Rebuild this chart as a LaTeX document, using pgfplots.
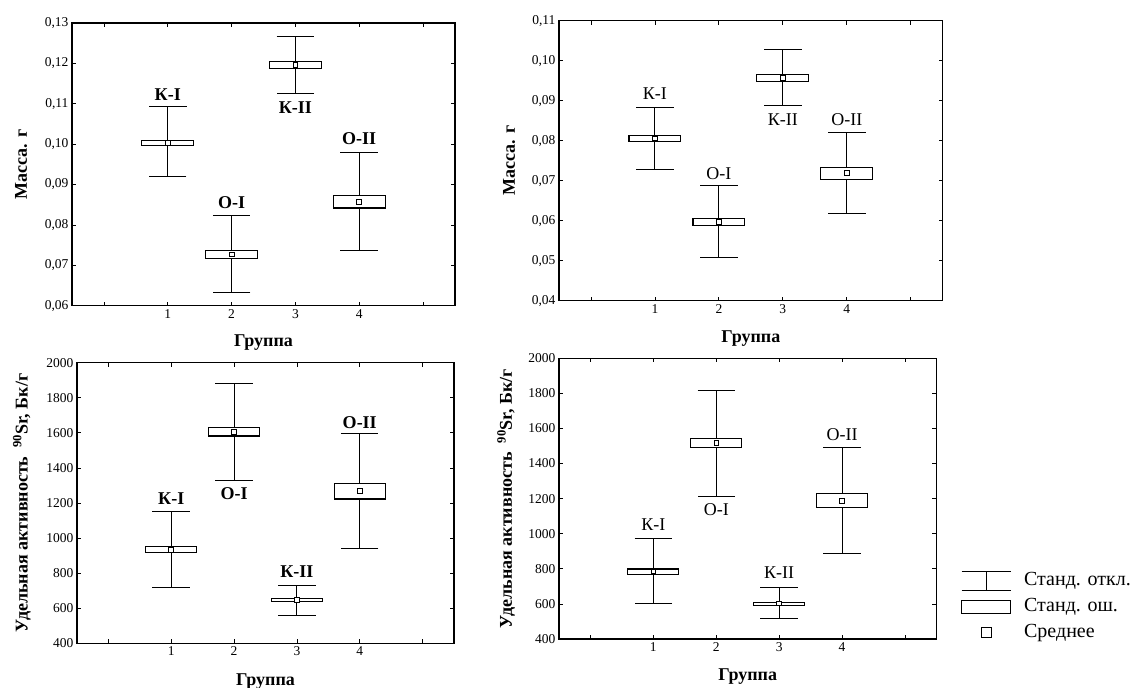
\documentclass[border=0pt]{standalone}
\usepackage{fontspec}
\setmainfont{Liberation Serif}
\usepackage{pgfplots}
\pgfplotsset{compat=1.18}
\usepackage{pgfplotstable}

% group mean and the limits of mean +- standard deviation
\pgfplotstableread{
g mean   sdlo   sdhi
1 0.1003 0.0920 0.1092
2 0.0727 0.0633 0.0823
3 0.1196 0.1125 0.1266
4 0.0857 0.0737 0.0979
}\tA
\pgfplotstableread{
g mean   sdlo   sdhi
1 0.0806 0.0727 0.0884
2 0.0597 0.0508 0.0687
3 0.0958 0.0887 0.1028
4 0.0719 0.0618 0.0821
}\tB
\pgfplotstableread{
g mean sdlo sdhi
1 934  717  1151
2 1607 1331 1882
3 649  558  729
4 1270 938  1595
}\tC
\pgfplotstableread{
g mean sdlo sdhi
1 786  605  970
2 1517 1215 1814
3 603  514  691
4 1189 886  1493
}\tD

% whiskers: mean +- sd
\newcommand\sd[1]{\addplot[black, only marks, mark=none,
  error bars/.cd, y dir=both, y explicit,
  error bar style={draw=black, solid, line width=1.1pt},
  error mark options={draw=black, rotate=90, mark size=18.75pt, line width=1pt}]
  table[x=g, y=mean, y error plus expr=\thisrow{sdhi}-\thisrow{mean},
    y error minus expr=\thisrow{mean}-\thisrow{sdlo}] {#1};}
% box: mean +- se, x from #1 to #2, y from #3 to #4
\newcommand\se[4]{\addplot[black, line width=1.1pt, fill=white, mark=none]
  coordinates {(#1,#3) (#2,#3) (#2,#4) (#1,#4)} --cycle;}
\newcommand\means[1]{\addplot[black, only marks, mark=square*, mark size=2.4pt,
  mark options={line width=0.7pt, solid, fill=white}] table[x=g, y=mean] {#1};}

\pgfplotsset{
  panel/.style={
    scale only axis, anchor=south west,
    xmin=-0.5, xmax=5.5, xtick={0,1,2,3,4,5}, xticklabels={,1,2,3,4,},
    tick align=inside, major tick length=4pt,
    axis line style={line width=1.1pt},
    every tick/.style={black, line width=0.8pt},
    tick label style={font=\fontsize{13.5}{15}\selectfont},
    /pgf/number format/assume math mode=true,
    label style={font=\bfseries\fontsize{18}{20}\selectfont},
    xlabel={Группа},
  },
  mass/.style={
    ytick distance=0.01, ylabel={Масса. г},
    yticklabel style={/pgf/number format/.cd, fixed, fixed zerofill, precision=2, use comma},
  },
  act/.style={
    ymin=400, ymax=2000, ytick distance=200,
    ylabel={Удельная активность\ \ \textsuperscript{90}Sr, Бк/г},
    yticklabel style={/pgf/number format/1000 sep={}},
  },
}
\tikzset{
  gb/.style={anchor=base, font=\bfseries\fontsize{18}{20}\selectfont},
  gr/.style={anchor=base, font=\fontsize{18}{20}\selectfont},
}

\begin{document}
\begin{tikzpicture}
\useasboundingbox (0,0) rectangle (1141pt,688pt);

% top left
\begin{axis}[panel, mass, at={(72pt,382.3pt)}, width=383pt, height=282.7pt,
  ymin=0.06, ymax=0.13,
  xlabel style={at={(axis description cs:0.5,-0.143)}, anchor=base},
  ylabel style={at={(axis description cs:-0.133,0.5)}, anchor=center}]
\sd{\tA}
\se{0.595}{1.405}{0.0997}{0.1010}
\se{1.595}{2.405}{0.0717}{0.0737}
\se{2.595}{3.405}{0.1188}{0.1204}
\se{3.595}{4.405}{0.0842}{0.0873}
\means{\tA}
\node[gb] at (axis cs:1,0.1109) {К-I};
\node[gb] at (axis cs:2,0.0840) {О-I};
\node[gb] at (axis cs:3,0.1076) {К-II};
\node[gb] at (axis cs:4,0.1000) {О-II};
\end{axis}

% top right
\begin{axis}[panel, mass, at={(559pt,387.3pt)}, width=383.7pt, height=280pt,
  ymin=0.04, ymax=0.11,
  xlabel style={at={(axis description cs:0.5,-0.151)}, anchor=base},
  ylabel style={at={(axis description cs:-0.130,0.5)}, anchor=center}]
\sd{\tB}
\se{0.595}{1.405}{0.0798}{0.0813}
\se{1.595}{2.405}{0.0588}{0.0605}
\se{2.595}{3.405}{0.0949}{0.0966}
\se{3.595}{4.405}{0.0704}{0.0733}
\means{\tB}
\node[gr] at (axis cs:1,0.0902) {К-I};
\node[gr] at (axis cs:2,0.0703) {О-I};
\node[gr] at (axis cs:3,0.0839) {К-II};
\node[gr] at (axis cs:4,0.0839) {О-II};
\end{axis}

% bottom left
\begin{axis}[panel, act, at={(77pt,44.7pt)}, width=377pt, height=280.6pt,
  xlabel style={at={(axis description cs:0.5,-0.150)}, anchor=base},
  ylabel style={at={(axis description cs:-0.146,0.5)}, anchor=center}]
\sd{\tC}
\se{0.595}{1.405}{917}{951}
\se{1.595}{2.405}{1582}{1631}
\se{2.595}{3.405}{636}{655}
\se{3.595}{4.405}{1223}{1310}
\means{\tC}
\node[gb] at (axis cs:1,1189) {К-I};
\node[gb] at (axis cs:2,1221) {О-I};
\node[gb] at (axis cs:3,776) {К-II};
\node[gb] at (axis cs:4,1626) {О-II};
\end{axis}

% bottom right, with the legend
\begin{axis}[panel, act, at={(559pt,49pt)}, width=377.4pt, height=280.7pt,
  xlabel style={at={(axis description cs:0.5,-0.149)}, anchor=base},
  ylabel style={at={(axis description cs:-0.140,0.5)}, anchor=center},
  legend cell align=left,
  legend style={at={(axis description cs:1.0652,0.2415)}, anchor=north west,
    draw=none, fill=none, inner sep=0pt, outer sep=0pt, row sep=6.5pt,
    font=\fontsize{20}{24}\selectfont,
    nodes={inner sep=0pt, text height=14pt, text depth=5pt},
    /tikz/every odd column/.style={column sep=13pt}}]
\addlegendimage{legend image code/.code={
  \draw[line width=1.1pt] (0pt,9.5pt)--(49pt,9.5pt) (0pt,-9.5pt)--(49pt,-9.5pt) (24.5pt,-9.5pt)--(24.5pt,9.5pt);}}
\addlegendentry{Станд. откл.}
\addlegendimage{legend image code/.code={
  \draw[line width=1.1pt] (0pt,-6.5pt) rectangle (49pt,6.5pt);}}
\addlegendentry{Станд. ош.}
\addlegendimage{legend image code/.code={
  \draw[line width=1.1pt] (19.5pt,-5pt) rectangle (29.5pt,5pt);}}
\addlegendentry{Среднее}
\sd{\tD}
\se{0.595}{1.405}{769}{799}
\se{1.595}{2.405}{1493}{1542}
\se{2.595}{3.405}{590}{607}
\se{3.595}{4.405}{1149}{1228}
\means{\tD}
\node[gr] at (axis cs:1,1018) {К-I};
\node[gr] at (axis cs:2,1103) {О-I};
\node[gr] at (axis cs:3,742) {К-II};
\node[gr] at (axis cs:4,1531) {О-II};
\end{axis}
\end{tikzpicture}
\end{document}
